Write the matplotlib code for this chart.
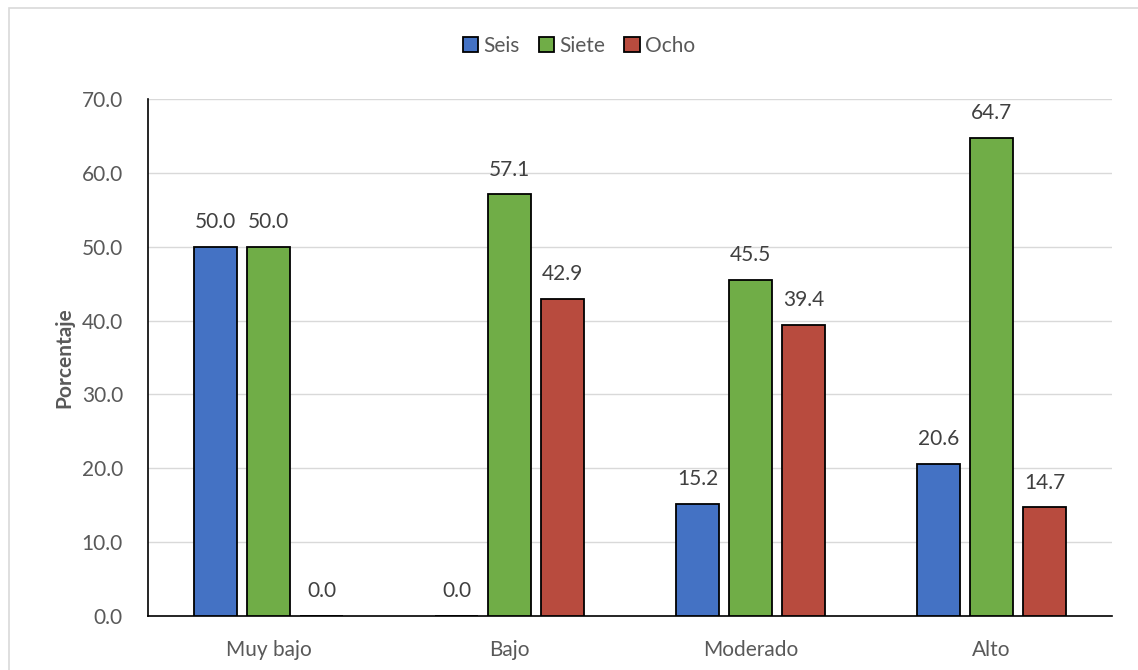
import numpy as np
import matplotlib
matplotlib.use("Agg")
import matplotlib.pyplot as plt
from matplotlib.patches import Rectangle

categories = ["Muy bajo", "Bajo", "Moderado", "Alto"]
series_names = ["Seis", "Siete", "Ocho"]
seis = [50.0, 0.0, 15.2, 20.6]
siete = [50.0, 57.1, 45.5, 64.7]
ocho = [0.0, 42.9, 39.4, 14.7]
colors = ["#4472C4", "#70AD47", "#B84B3E"]
yticks = [0, 10, 20, 30, 40, 50, 60, 70]

plt.rcParams["font.family"] = ["Lato", "DejaVu Sans"]
text_color = "#595959"

fig = plt.figure(figsize=(11.38, 6.70), dpi=100)
ax = fig.add_axes([148 / 1138, 54 / 670, (1112 - 148) / 1138, (616 - 99) / 670])

# light outer frame, right and bottom edges run off the image
fig.patches.append(Rectangle((9 / 1138, -10 / 670), 1200 / 1138, 672 / 670,
                             transform=fig.transFigure, fill=False,
                             edgecolor="#D9D9D9", linewidth=1.2))

x = np.arange(len(categories))
width = 0.178
step = 0.22
for i, (name, vals) in enumerate(zip(series_names, [seis, siete, ocho])):
    pos = x + (i - 1) * step
    ax.bar(pos, vals, width, color=colors[i], edgecolor="black",
           linewidth=1.3, label=name, zorder=3)
    for xp, v in zip(pos, vals):
        ax.text(xp, v + 2.0, f"{v:.1f}", ha="center", va="bottom",
                fontsize=15, color="#404040")

ax.set_xlim(-0.5, len(categories) - 0.5)
ax.set_ylim(0, 70)
ax.set_yticks(yticks)
ax.set_yticklabels([f"{t:.1f}" for t in yticks])
ax.set_xticks(x)
ax.set_xticklabels(categories)
ax.tick_params(axis="both", length=0, labelsize=15, labelcolor=text_color)
ax.tick_params(axis="y", pad=18)
ax.tick_params(axis="x", pad=17)
ax.grid(axis="y", color="#D9D9D9", linewidth=1.0, zorder=0)
for s in ["top", "right"]:
    ax.spines[s].set_visible(False)
ax.spines["left"].set_color("black")
ax.spines["bottom"].set_color("black")
ax.spines["left"].set_linewidth(1.2)
ax.spines["bottom"].set_linewidth(1.2)

ax.set_ylabel("Porcentaje", fontsize=15, fontweight="bold", color=text_color, labelpad=5)

fig.legend(loc="center", bbox_to_anchor=(579 / 1138, 1 - 46 / 670), ncol=3,
           frameon=False, fontsize=15, handlelength=0.75, handleheight=0.75,
           handletextpad=0.25, columnspacing=0.9, labelcolor=text_color)

fig.savefig("out.png", dpi=100)
